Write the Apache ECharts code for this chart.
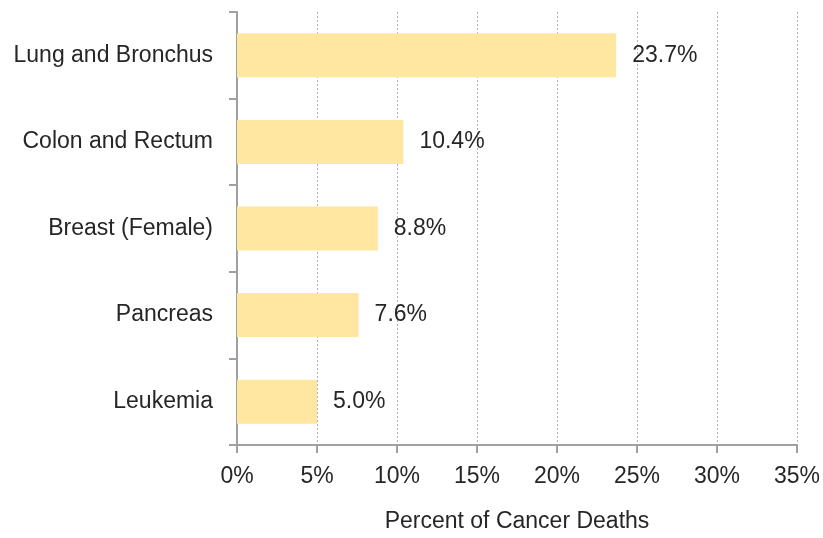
<!DOCTYPE html>
<html>
<head>
<meta charset="utf-8">
<script src="https://cdn.jsdelivr.net/npm/echarts@6/dist/echarts.min.js"></script>
<style>
  html, body { margin: 0; padding: 0; background: #fff; }
  #chart { width: 823px; height: 538px; }
</style>
</head>
<body>
<div id="chart"></div>
<script>
  // categories, bottom to top
  var categories = ['Leukemia', 'Pancreas', 'Breast (Female)', 'Colon and Rectum', 'Lung and Bronchus'];
  var values = [5.0, 7.6, 8.8, 10.4, 23.7];

  var chart = echarts.init(document.getElementById('chart'));
  var font = '"Liberation Sans", Arial, sans-serif';
  var txt = '#262626';

  var option = {
    animation: false,
    grid: { left: 237, right: 25, top: 12, bottom: 90, containLabel: false },
    xAxis: {
      type: 'value',
      min: 0,
      max: 35,
      interval: 5,
      name: 'Percent of Cancer Deaths',
      nameLocation: 'middle',
      nameGap: 65,
      nameTextStyle: { fontFamily: font, fontSize: 23, color: txt },
      axisLine: { show: true, lineStyle: { color: '#a0a0a0', width: 2 } },
      axisTick: { show: true, length: 8, lineStyle: { color: '#a0a0a0', width: 2 } },
      axisLabel: { formatter: '{value}%', fontFamily: font, fontSize: 23, color: txt, margin: 20 },
      splitLine: { show: true, lineStyle: { color: '#b0b0b0', type: [2, 2], width: 1 } }
    },
    yAxis: {
      type: 'category',
      data: categories,
      axisLine: { show: true, lineStyle: { color: '#a0a0a0', width: 2 } },
      axisTick: { show: true, length: 8, lineStyle: { color: '#a0a0a0', width: 2 } },
      axisLabel: { fontFamily: font, fontSize: 23, color: txt, margin: 24 }
    },
    series: [{
      type: 'bar',
      data: values,
      barWidth: 44,
      itemStyle: { color: '#FFE6A1' },
      label: {
        show: true,
        position: 'right',
        distance: 16,
        formatter: function (p) { return p.value.toFixed(1) + '%'; },
        fontFamily: font,
        fontSize: 23,
        color: txt
      }
    }]
  };

  chart.setOption(option);
</script>
</body>
</html>
